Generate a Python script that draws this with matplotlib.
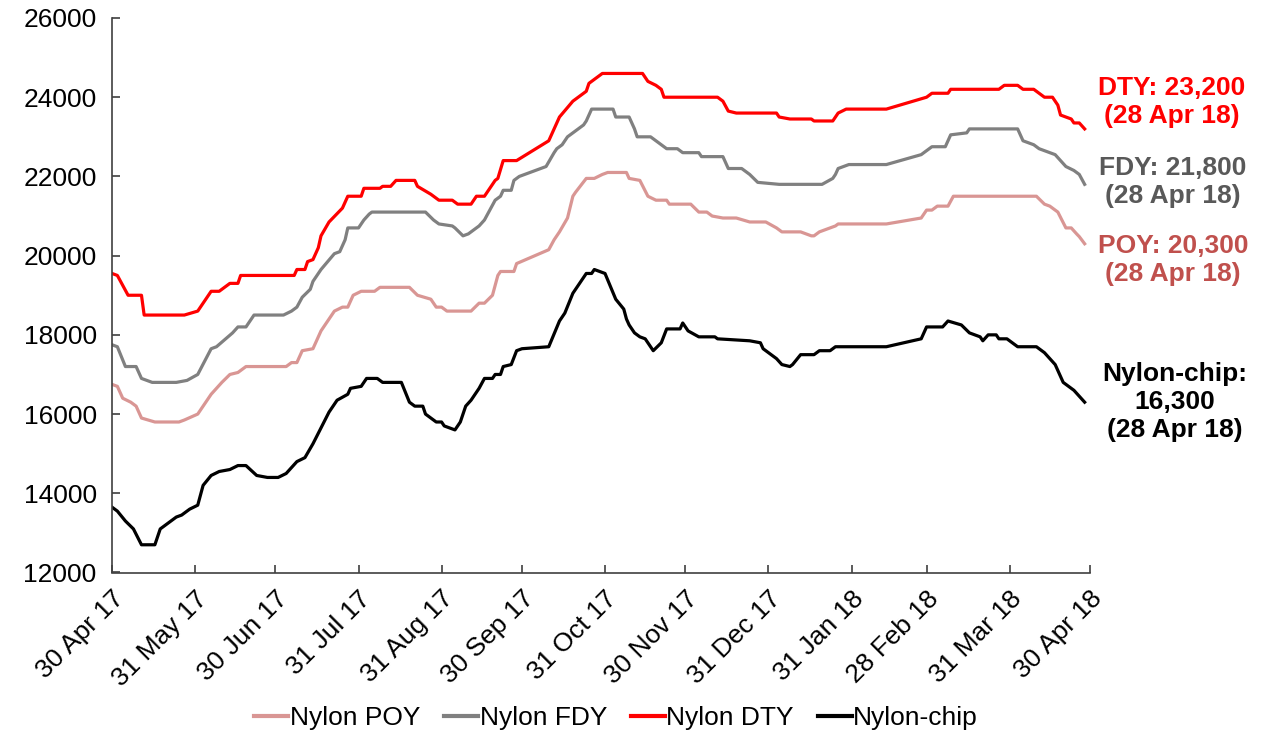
import matplotlib
matplotlib.use("Agg")
import matplotlib.pyplot as plt
import pandas as pd

plt.rcParams['font.family'] = ['Liberation Sans', 'DejaVu Sans']

START = pd.Timestamp("2017-04-30")

# Days after 30 Apr 17 and prices (RMB/t)
dty_days = [0, 2, 6, 11, 12, 27, 32, 37, 40, 44, 47, 48, 68, 69, 72, 73, 75, 77, 78, 81, 86, 88, 93, 94,
            100, 101, 104, 106, 113, 114, 119, 122, 127, 129, 134, 136, 139, 143, 144, 146, 151, 163, 167,
            172, 177, 178, 180, 183, 198, 200, 203, 205, 206, 226, 228, 230, 233, 248, 249, 253, 261, 262,
            269, 271, 274, 289, 304, 306, 312, 313, 331, 333, 338, 340, 344, 346, 348, 351, 353, 354, 358,
            359, 361, 363]
dty_vals = [19550, 19500, 19000, 19000, 18500, 18500, 18600, 19100, 19100, 19300, 19300, 19500, 19500,
            19650, 19650, 19850, 19900, 20200, 20500, 20850, 21200, 21500, 21500, 21700, 21700, 21750,
            21750, 21900, 21900, 21750, 21550, 21400, 21400, 21300, 21300, 21500, 21500, 21900, 21950,
            22400, 22400, 22900, 23500, 23900, 24150, 24350, 24450, 24600, 24600, 24400, 24300, 24200,
            24000, 24000, 23900, 23650, 23600, 23600, 23500, 23450, 23450, 23400, 23400, 23600, 23700,
            23700, 24000, 24100, 24100, 24200, 24200, 24300, 24300, 24200, 24200, 24100, 24000, 24000,
            23800, 23550, 23450, 23350, 23350, 23200]

fdy_days = [0, 2, 5, 9, 11, 13, 15, 24, 28, 32, 37, 39, 45, 47, 50, 53, 64, 67, 69, 71, 74, 75, 78, 83,
            85, 87, 88, 92, 94, 96, 97, 117, 120, 122, 127, 128, 131, 133, 137, 139, 143, 145, 146, 149,
            150, 152, 162, 165, 166, 168, 170, 172, 176, 177, 179, 187, 188, 193, 195, 196, 201, 205, 207,
            211, 213, 219, 220, 228, 230, 235, 238, 241, 249, 265, 269, 270, 271, 275, 289, 302, 306, 311,
            313, 319, 320, 338, 340, 344, 346, 348, 352, 356, 359, 361, 363]
fdy_vals = [17750, 17700, 17200, 17200, 16900, 16850, 16800, 16800, 16850, 17000, 17650, 17700, 18050,
            18200, 18200, 18500, 18500, 18600, 18700, 18950, 19150, 19350, 19650, 20050, 20100, 20400,
            20700, 20700, 20900, 21050, 21100, 21100, 20900, 20800, 20750, 20700, 20500, 20550, 20750,
            20900, 21400, 21500, 21650, 21650, 21900, 22000, 22250, 22600, 22700, 22800, 23000, 23100,
            23300, 23400, 23700, 23700, 23500, 23500, 23200, 23000, 23000, 22800, 22700, 22700, 22600,
            22600, 22500, 22500, 22200, 22200, 22050, 21850, 21800, 21800, 21950, 22050, 22200, 22300,
            22300, 22550, 22750, 22750, 23050, 23100, 23200, 23200, 22900, 22800, 22700, 22650, 22550,
            22250, 22150, 22050, 21800]

poy_days = [0, 2, 4, 7, 9, 11, 16, 25, 27, 32, 37, 39, 41, 44, 47, 50, 65, 67, 69, 71, 75, 78, 83, 86,
            88, 90, 93, 98, 100, 111, 114, 119, 121, 123, 125, 134, 137, 139, 142, 144, 145, 150, 151,
            163, 165, 167, 170, 172, 173, 177, 180, 183, 185, 192, 193, 197, 200, 203, 207, 208, 216,
            219, 222, 224, 228, 233, 238, 244, 248, 250, 257, 261, 262, 264, 268, 270, 271, 289, 302,
            304, 306, 308, 312, 314, 345, 348, 350, 353, 356, 358, 360, 361, 363]
poy_vals = [16750, 16700, 16400, 16300, 16200, 15900, 15800, 15800, 15850, 16000, 16500, 16650, 16800,
            17000, 17050, 17200, 17200, 17300, 17300, 17600, 17650, 18100, 18600, 18700, 18700, 19000,
            19100, 19100, 19200, 19200, 19000, 18900, 18700, 18700, 18600, 18600, 18800, 18800, 19000,
            19500, 19600, 19600, 19800, 20150, 20400, 20600, 20950, 21500, 21600, 21950, 21950, 22050,
            22100, 22100, 21950, 21900, 21500, 21400, 21400, 21300, 21300, 21100, 21100, 21000, 20950,
            20950, 20850, 20850, 20700, 20600, 20600, 20500, 20500, 20600, 20700, 20750, 20800, 20800,
            20950, 21150, 21150, 21250, 21250, 21500, 21500, 21300, 21250, 21100, 20700, 20700, 20550,
            20480, 20300]

chip_days = [0, 2, 5, 8, 11, 16, 18, 20, 24, 26, 29, 32, 34, 37, 40, 44, 47, 50, 54, 58, 62, 65, 69, 72,
             75, 81, 84, 88, 89, 93, 95, 99, 101, 108, 111, 113, 116, 117, 121, 123, 124, 128, 130, 132,
             134, 137, 139, 142, 143, 145, 146, 149, 151, 153, 163, 167, 169, 172, 177, 179, 180, 184,
             188, 191, 192, 193, 195, 197, 199, 202, 205, 207, 212, 213, 215, 219, 225, 226, 238, 242,
             243, 248, 250, 253, 254, 257, 262, 264, 268, 270, 289, 302, 304, 310, 312, 317, 320, 324,
             325, 327, 330, 331, 334, 338, 345, 348, 352, 355, 359, 361, 363]
chip_vals = [13650, 13550, 13300, 13100, 12700, 12700, 13100, 13200, 13400, 13450, 13600, 13700, 14200,
             14450, 14550, 14600, 14700, 14700, 14450, 14400, 14400, 14500, 14800, 14900, 15250, 16050,
             16350, 16500, 16650, 16700, 16900, 16900, 16800, 16800, 16300, 16200, 16200, 16000, 15800,
             15800, 15700, 15600, 15800, 16200, 16350, 16650, 16900, 16900, 17000, 17000, 17200, 17250,
             17600, 17650, 17700, 18350, 18550, 19050, 19550, 19550, 19650, 19550, 18900, 18650, 18400,
             18250, 18050, 17950, 17900, 17600, 17800, 18150, 18150, 18300, 18100, 17950, 17950, 17900,
             17850, 17800, 17650, 17400, 17250, 17200, 17250, 17500, 17500, 17600, 17600, 17700, 17700,
             17900, 18200, 18200, 18350, 18250, 18050, 17950, 17850, 18000, 18000, 17900, 17900, 17700,
             17700, 17550, 17250, 16800, 16600, 16450, 16300]

series_names = ["Nylon POY", "Nylon FDY", "Nylon DTY", "Nylon-chip"]
series_colors = ["#D99694", "#808080", "#FF0000", "#000000"]

tick_dates = ["2017-04-30", "2017-05-31", "2017-06-30", "2017-07-31", "2017-08-31", "2017-09-30",
              "2017-10-31", "2017-11-30", "2017-12-31", "2018-01-31", "2018-02-28", "2018-03-31",
              "2018-04-30"]
tick_labels = ["30 Apr 17", "31 May 17", "30 Jun 17", "31 Jul 17", "31 Aug 17", "30 Sep 17",
               "31 Oct 17", "30 Nov 17", "31 Dec 17", "31 Jan 18", "28 Feb 18", "31 Mar 18", "30 Apr 18"]
y_ticks = [12000, 14000, 16000, 18000, 20000, 22000, 24000, 26000]

end_labels = ["POY: 20,300\n(28 Apr 18)", "FDY: 21,800\n(28 Apr 18)", "DTY: 23,200\n(28 Apr 18)",
              "Nylon-chip:\n16,300\n(28 Apr 18)"]
label_colors = ["#C0504D", "#595959", "#FF0000", "#000000"]

FS = 19

fig = plt.figure(figsize=(12.62, 7.38), dpi=100)
ax = fig.add_axes([112 / 1262, 1 - 572.5 / 738, (1090 - 112) / 1262, (572.5 - 18) / 738])

all_days = [poy_days, fdy_days, dty_days, chip_days]
all_vals = [poy_vals, fdy_vals, dty_vals, chip_vals]
for name, col, d, v in zip(series_names, series_colors, all_days, all_vals):
    dates = [START + pd.Timedelta(days=x) for x in d]
    ax.plot(dates, v, color=col, lw=2.3, label=name, solid_joinstyle="round")

ax.set_xlim(pd.Timestamp(tick_dates[0]), pd.Timestamp(tick_dates[-1]))
ax.set_ylim(12000, 26000)
ax.set_yticks(y_ticks)
ax.set_yticklabels([str(t) for t in y_ticks], fontsize=FS)
ax.set_xticks([pd.Timestamp(t) for t in tick_dates])
ax.set_xticklabels(tick_labels, rotation=45, ha="right", rotation_mode="anchor", fontsize=FS)

for s in ["top", "right"]:
    ax.spines[s].set_visible(False)
for s in ["left", "bottom"]:
    ax.spines[s].set_color("#404040")
    ax.spines[s].set_linewidth(1.2)
ax.tick_params(axis="both", direction="in", length=6, width=1.2, color="#404040")
ax.tick_params(axis="y", pad=11)
ax.tick_params(axis="x", pad=10)

# end-of-series annotations (right side), positions in pixels
text_xy = [(1173, 260), (1173, 182), (1172, 102), (1175, 402)]
for txt, col, (px, py) in zip(end_labels, label_colors, text_xy):
    fig.text(px / 1262, 1 - py / 738, txt, color=col, fontsize=FS, fontweight="bold",
             ha="center", va="center", linespacing=1.2)

leg = fig.legend(loc="center", bbox_to_anchor=(616 / 1262, 1 - 718 / 738), ncol=4, frameon=False,
                 fontsize=FS, handlelength=1.3, handletextpad=0.05, columnspacing=0.9)
for h in leg.legend_handles:
    h.set_linewidth(3)

fig.savefig("out.png", dpi=100)
